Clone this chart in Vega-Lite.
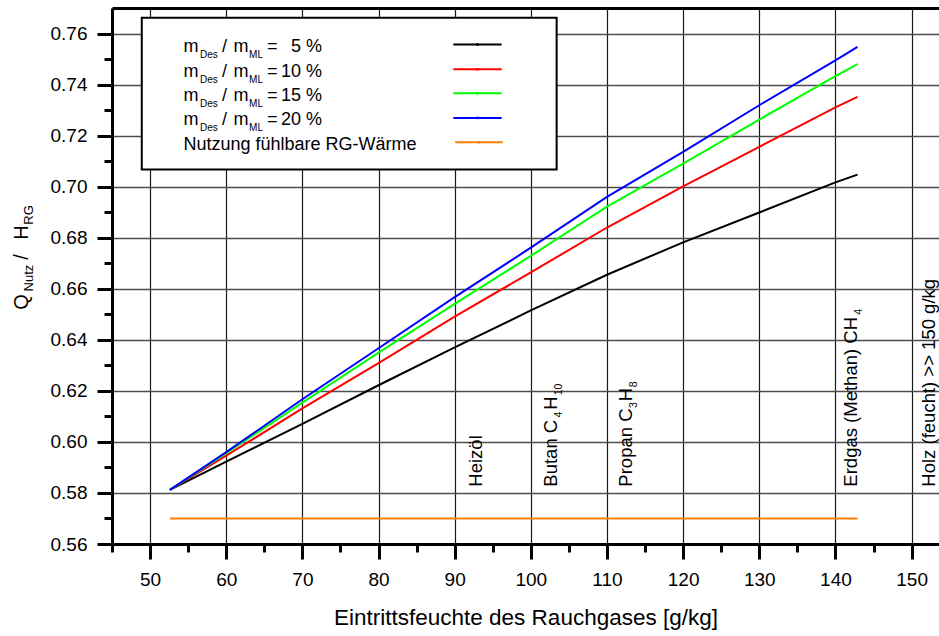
{
  "$schema": "https://vega.github.io/schema/vega-lite/v6.json",
  "width": 827,
  "height": 536,
  "autosize": {"type": "none"},
  "padding": {"left": 112, "top": 8, "right": 0, "bottom": 92},
  "background": "white",
  "config": {
    "view": {"stroke": null},
    "font": "Liberation Sans",
    "text": {"font": "Liberation Sans", "color": "black"}
  },
  "datasets": {
    "curves": [
      {"series": "5", "x": 52.6, "y": 0.5812},
      {"series": "5", "x": 60, "y": 0.5923},
      {"series": "5", "x": 70, "y": 0.6071},
      {"series": "5", "x": 80, "y": 0.6222},
      {"series": "5", "x": 90, "y": 0.637},
      {"series": "5", "x": 100, "y": 0.6515},
      {"series": "5", "x": 110, "y": 0.6655},
      {"series": "5", "x": 120, "y": 0.6782},
      {"series": "5", "x": 130, "y": 0.6899},
      {"series": "5", "x": 140, "y": 0.7017},
      {"series": "5", "x": 142.9, "y": 0.7047},
      {"series": "10", "x": 52.6, "y": 0.5812},
      {"series": "10", "x": 60, "y": 0.5946},
      {"series": "10", "x": 70, "y": 0.6131},
      {"series": "10", "x": 80, "y": 0.6309},
      {"series": "10", "x": 90, "y": 0.6491},
      {"series": "10", "x": 100, "y": 0.6664},
      {"series": "10", "x": 110, "y": 0.684},
      {"series": "10", "x": 120, "y": 0.7001},
      {"series": "10", "x": 130, "y": 0.7156},
      {"series": "10", "x": 140, "y": 0.7311},
      {"series": "10", "x": 142.9, "y": 0.7352},
      {"series": "15", "x": 52.6, "y": 0.5812},
      {"series": "15", "x": 60, "y": 0.5956},
      {"series": "15", "x": 70, "y": 0.6154},
      {"series": "15", "x": 80, "y": 0.635},
      {"series": "15", "x": 90, "y": 0.6541},
      {"series": "15", "x": 100, "y": 0.6729},
      {"series": "15", "x": 110, "y": 0.6922},
      {"series": "15", "x": 120, "y": 0.709},
      {"series": "15", "x": 130, "y": 0.7263},
      {"series": "15", "x": 140, "y": 0.7433},
      {"series": "15", "x": 142.9, "y": 0.748},
      {"series": "20", "x": 52.6, "y": 0.5812},
      {"series": "20", "x": 60, "y": 0.596},
      {"series": "20", "x": 70, "y": 0.6167},
      {"series": "20", "x": 80, "y": 0.6367},
      {"series": "20", "x": 90, "y": 0.6567},
      {"series": "20", "x": 100, "y": 0.6761},
      {"series": "20", "x": 110, "y": 0.696},
      {"series": "20", "x": 120, "y": 0.7136},
      {"series": "20", "x": 130, "y": 0.7319},
      {"series": "20", "x": 140, "y": 0.7495},
      {"series": "20", "x": 142.9, "y": 0.7548},
      {"series": "RG", "x": 52.6, "y": 0.57},
      {"series": "RG", "x": 142.9, "y": 0.57}
    ],
    "legendBox": [
      {"x1": 48.91, "x2": 103.39, "y1": 0.7067, "y2": 0.7662}
    ],
    "legendLines": [
      {"series": "5", "x1": 89.82, "x2": 96.17, "xm": 93.0, "y": 0.75569},
      {"series": "10", "x1": 89.82, "x2": 96.17, "xm": 93.0, "y": 0.746},
      {"series": "15", "x1": 89.82, "x2": 96.17, "xm": 93.0, "y": 0.73659},
      {"series": "20", "x1": 89.82, "x2": 96.17, "xm": 93.0, "y": 0.72694},
      {"series": "RG", "x1": 90.05, "x2": 96.3, "xm": 93.2, "y": 0.71737}
    ],
    "labels": [
      {"group": "leg", "text": "m", "x": 54.38, "y": 0.75282},
      {"group": "leg", "text": "/", "x": 59.45, "y": 0.75282},
      {"group": "leg", "text": "m", "x": 60.94, "y": 0.75282},
      {"group": "leg", "text": "=", "x": 65.36, "y": 0.75282},
      {"group": "legSub", "text": "Des", "x": 56.56, "y": 0.75282},
      {"group": "legSub", "text": "ML", "x": 63.0, "y": 0.75282},
      {"group": "legVal", "text": "5 %", "x": 72.58, "y": 0.75282},
      {"group": "leg", "text": "m", "x": 54.38, "y": 0.74314},
      {"group": "leg", "text": "/", "x": 59.45, "y": 0.74314},
      {"group": "leg", "text": "m", "x": 60.94, "y": 0.74314},
      {"group": "leg", "text": "=", "x": 65.36, "y": 0.74314},
      {"group": "legSub", "text": "Des", "x": 56.56, "y": 0.74314},
      {"group": "legSub", "text": "ML", "x": 63.0, "y": 0.74314},
      {"group": "legVal", "text": "10 %", "x": 72.58, "y": 0.74314},
      {"group": "leg", "text": "m", "x": 54.38, "y": 0.73373},
      {"group": "leg", "text": "/", "x": 59.45, "y": 0.73373},
      {"group": "leg", "text": "m", "x": 60.94, "y": 0.73373},
      {"group": "leg", "text": "=", "x": 65.36, "y": 0.73373},
      {"group": "legSub", "text": "Des", "x": 56.56, "y": 0.73373},
      {"group": "legSub", "text": "ML", "x": 63.0, "y": 0.73373},
      {"group": "legVal", "text": "15 %", "x": 72.58, "y": 0.73373},
      {"group": "leg", "text": "m", "x": 54.38, "y": 0.72408},
      {"group": "leg", "text": "/", "x": 59.45, "y": 0.72408},
      {"group": "leg", "text": "m", "x": 60.94, "y": 0.72408},
      {"group": "leg", "text": "=", "x": 65.36, "y": 0.72408},
      {"group": "legSub", "text": "Des", "x": 56.56, "y": 0.72408},
      {"group": "legSub", "text": "ML", "x": 63.0, "y": 0.72408},
      {"group": "legVal", "text": "20 %", "x": 72.58, "y": 0.72408},
      {"group": "leg", "text": "Nutzung fühlbare RG-Wärme", "x": 54.38, "y": 0.71451},
      {"group": "ann", "text": "Heizöl", "x": 93.55, "y": 0.58247},
      {"group": "ann", "text": "Butan C", "x": 103.39, "y": 0.58247},
      {"group": "ann", "text": "H", "x": 103.39, "y": 0.61255},
      {"group": "annSub", "text": "4", "x": 103.39, "y": 0.60961},
      {"group": "annSub", "text": "10", "x": 103.39, "y": 0.61824},
      {"group": "ann", "text": "Propan C", "x": 113.24, "y": 0.58247},
      {"group": "ann", "text": "H", "x": 113.24, "y": 0.61588},
      {"group": "annSub", "text": "3", "x": 113.24, "y": 0.61333},
      {"group": "annSub", "text": "8", "x": 113.24, "y": 0.62137},
      {"group": "ann", "text": "Erdgas (Methan) CH", "x": 142.86, "y": 0.58247},
      {"group": "annSub", "text": "4", "x": 142.86, "y": 0.6498},
      {"group": "ann", "text": "Holz (feucht) >> 150 g/kg", "x": 153.06, "y": 0.58247},
      {"group": "ttl", "text": "Q", "x": 33.98, "y": 0.65176},
      {"group": "ttlSub", "text": "Nutz", "x": 33.98, "y": 0.65894},
      {"group": "ttl", "text": "/", "x": 33.98, "y": 0.67137},
      {"group": "ttl", "text": "H", "x": 33.98, "y": 0.67922},
      {"group": "ttlSub", "text": "RG", "x": 33.98, "y": 0.6851}
    ]
  },
  "layer": [
    {
      "data": {"name": "curves"},
      "mark": {"type": "line", "strokeWidth": 2},
      "encoding": {
        "x": {
          "field": "x", "type": "quantitative",
          "scale": {"domain": [45, 153.6], "nice": false, "zero": false},
          "axis": {
            "values": [50, 60, 70, 80, 90, 100, 110, 120, 130, 140, 150],
            "tickSize": 15, "tickWidth": 3, "tickColor": "black",
            "domainWidth": 3, "domainColor": "black",
            "grid": true, "gridColor": "#1a1a1a", "gridWidth": 1.2,
            "labelFontSize": 19, "labelColor": "black", "labelPadding": 11,
            "labelFlush": false, "labelOverlap": false,
            "title": "Eintrittsfeuchte des Rauchgases [g/kg]",
            "titleFontSize": 22.5, "titleFontWeight": "normal", "titleColor": "black",
            "titlePadding": 17
          }
        },
        "y": {
          "field": "y", "type": "quantitative",
          "scale": {"domain": [0.56, 0.77], "nice": false, "zero": false},
          "axis": {
            "values": [0.56, 0.58, 0.6, 0.62, 0.64, 0.66, 0.68, 0.7, 0.72, 0.74, 0.76],
            "format": ".2f",
            "tickSize": 15, "tickWidth": 3, "tickColor": "black",
            "domainWidth": 3, "domainColor": "black",
            "grid": true, "gridColor": "#4d4d4d", "gridWidth": 1.6,
            "labelFontSize": 19, "labelColor": "black", "labelPadding": 10,
            "labelFlush": false, "labelOverlap": false,
            "title": null
          }
        },
        "color": {
          "field": "series", "type": "nominal",
          "scale": {"domain": ["5", "10", "15", "20", "RG"], "range": ["#000000", "#ff0000", "#00ff00", "#0000ff", "#ff8000"]},
          "legend": null
        },
        "order": {"field": "x", "type": "quantitative"}
      }
    },
    {
      "data": {"name": "legendBox"},
      "mark": {"type": "rect", "fill": "white", "stroke": "black", "strokeWidth": 2},
      "encoding": {
        "x": {
          "field": "x1", "type": "quantitative",
          "scale": {"domain": [45, 153.6], "nice": false, "zero": false},
          "axis": {
            "orient": "bottom",
            "values": [45, 55, 65, 75, 85, 95, 105, 115, 125, 135, 145],
            "tickSize": 8, "tickWidth": 3, "tickColor": "black",
            "labels": false, "domain": false, "grid": false, "title": null
          }
        },
        "x2": {"field": "x2"},
        "y": {
          "field": "y1", "type": "quantitative",
          "scale": {"domain": [0.56, 0.77], "nice": false, "zero": false},
          "axis": {
            "orient": "left",
            "values": [0.57, 0.59, 0.61, 0.63, 0.65, 0.67, 0.69, 0.71, 0.73, 0.75],
            "tickSize": 8, "tickWidth": 3, "tickColor": "black",
            "labels": false, "domain": false, "grid": false, "title": null
          }
        },
        "y2": {"field": "y2"}
      }
    },
    {
      "data": {"name": "legendLines"},
      "mark": {"type": "rule", "strokeWidth": 2},
      "encoding": {
        "x": {
          "field": "x1", "type": "quantitative",
          "scale": {"domain": [45, 153.6], "nice": false, "zero": false},
          "axis": {
            "orient": "top", "domain": true, "domainWidth": 3, "domainColor": "black",
            "ticks": false, "labels": false, "grid": false, "title": null
          }
        },
        "x2": {"field": "x2"},
        "y": {
          "field": "y", "type": "quantitative",
          "scale": {"domain": [0.56, 0.77], "nice": false, "zero": false},
          "axis": null
        },
        "color": {
          "field": "series", "type": "nominal",
          "scale": {"domain": ["5", "10", "15", "20", "RG"], "range": ["#000000", "#ff0000", "#00ff00", "#0000ff", "#ff8000"]},
          "legend": null
        }
      }
    },
    {
      "data": {"name": "legendLines"},
      "mark": {"type": "point", "shape": "square", "filled": true, "size": 6, "opacity": 1},
      "encoding": {
        "x": {"field": "xm", "type": "quantitative", "scale": {"domain": [45, 153.6], "nice": false, "zero": false}, "axis": null},
        "y": {"field": "y", "type": "quantitative", "scale": {"domain": [0.56, 0.77], "nice": false, "zero": false}, "axis": null},
        "color": {
          "field": "series", "type": "nominal",
          "scale": {"domain": ["5", "10", "15", "20", "RG"], "range": ["#000000", "#ff0000", "#00ff00", "#0000ff", "#ff8000"]},
          "legend": null
        }
      }
    },
    {
      "data": {"name": "labels"},
      "transform": [{"filter": "datum.group === 'leg'"}],
      "mark": {"type": "text", "align": "left", "baseline": "alphabetic", "fontSize": 18},
      "encoding": {
        "x": {"field": "x", "type": "quantitative", "scale": {"domain": [45, 153.6], "nice": false, "zero": false}, "axis": null},
        "y": {"field": "y", "type": "quantitative", "scale": {"domain": [0.56, 0.77], "nice": false, "zero": false}, "axis": null},
        "text": {"field": "text"}
      }
    },
    {
      "data": {"name": "labels"},
      "transform": [{"filter": "datum.group === 'legSub'"}],
      "mark": {"type": "text", "align": "left", "baseline": "alphabetic", "fontSize": 10, "dy": 6},
      "encoding": {
        "x": {"field": "x", "type": "quantitative", "scale": {"domain": [45, 153.6], "nice": false, "zero": false}, "axis": null},
        "y": {"field": "y", "type": "quantitative", "scale": {"domain": [0.56, 0.77], "nice": false, "zero": false}, "axis": null},
        "text": {"field": "text"}
      }
    },
    {
      "data": {"name": "labels"},
      "transform": [{"filter": "datum.group === 'legVal'"}],
      "mark": {"type": "text", "align": "right", "baseline": "alphabetic", "fontSize": 18},
      "encoding": {
        "x": {"field": "x", "type": "quantitative", "scale": {"domain": [45, 153.6], "nice": false, "zero": false}, "axis": null},
        "y": {"field": "y", "type": "quantitative", "scale": {"domain": [0.56, 0.77], "nice": false, "zero": false}, "axis": null},
        "text": {"field": "text"}
      }
    },
    {
      "data": {"name": "labels"},
      "transform": [{"filter": "datum.group === 'ann'"}],
      "mark": {"type": "text", "align": "left", "baseline": "alphabetic", "angle": 270, "fontSize": 18.5},
      "encoding": {
        "x": {"field": "x", "type": "quantitative", "scale": {"domain": [45, 153.6], "nice": false, "zero": false}, "axis": null},
        "y": {"field": "y", "type": "quantitative", "scale": {"domain": [0.56, 0.77], "nice": false, "zero": false}, "axis": null},
        "text": {"field": "text"}
      }
    },
    {
      "data": {"name": "labels"},
      "transform": [{"filter": "datum.group === 'annSub'"}],
      "mark": {"type": "text", "align": "left", "baseline": "alphabetic", "angle": 270, "fontSize": 10.5, "dy": 5},
      "encoding": {
        "x": {"field": "x", "type": "quantitative", "scale": {"domain": [45, 153.6], "nice": false, "zero": false}, "axis": null},
        "y": {"field": "y", "type": "quantitative", "scale": {"domain": [0.56, 0.77], "nice": false, "zero": false}, "axis": null},
        "text": {"field": "text"}
      }
    },
    {
      "data": {"name": "labels"},
      "transform": [{"filter": "datum.group === 'ttl'"}],
      "mark": {"type": "text", "align": "left", "baseline": "alphabetic", "angle": 270, "fontSize": 20},
      "encoding": {
        "x": {"field": "x", "type": "quantitative", "scale": {"domain": [45, 153.6], "nice": false, "zero": false}, "axis": null},
        "y": {"field": "y", "type": "quantitative", "scale": {"domain": [0.56, 0.77], "nice": false, "zero": false}, "axis": null},
        "text": {"field": "text"}
      }
    },
    {
      "data": {"name": "labels"},
      "transform": [{"filter": "datum.group === 'ttlSub'"}],
      "mark": {"type": "text", "align": "left", "baseline": "alphabetic", "angle": 270, "fontSize": 13, "dy": 5},
      "encoding": {
        "x": {"field": "x", "type": "quantitative", "scale": {"domain": [45, 153.6], "nice": false, "zero": false}, "axis": null},
        "y": {"field": "y", "type": "quantitative", "scale": {"domain": [0.56, 0.77], "nice": false, "zero": false}, "axis": null},
        "text": {"field": "text"}
      }
    }
  ],
  "resolve": {"axis": {"x": "independent", "y": "independent"}}
}
